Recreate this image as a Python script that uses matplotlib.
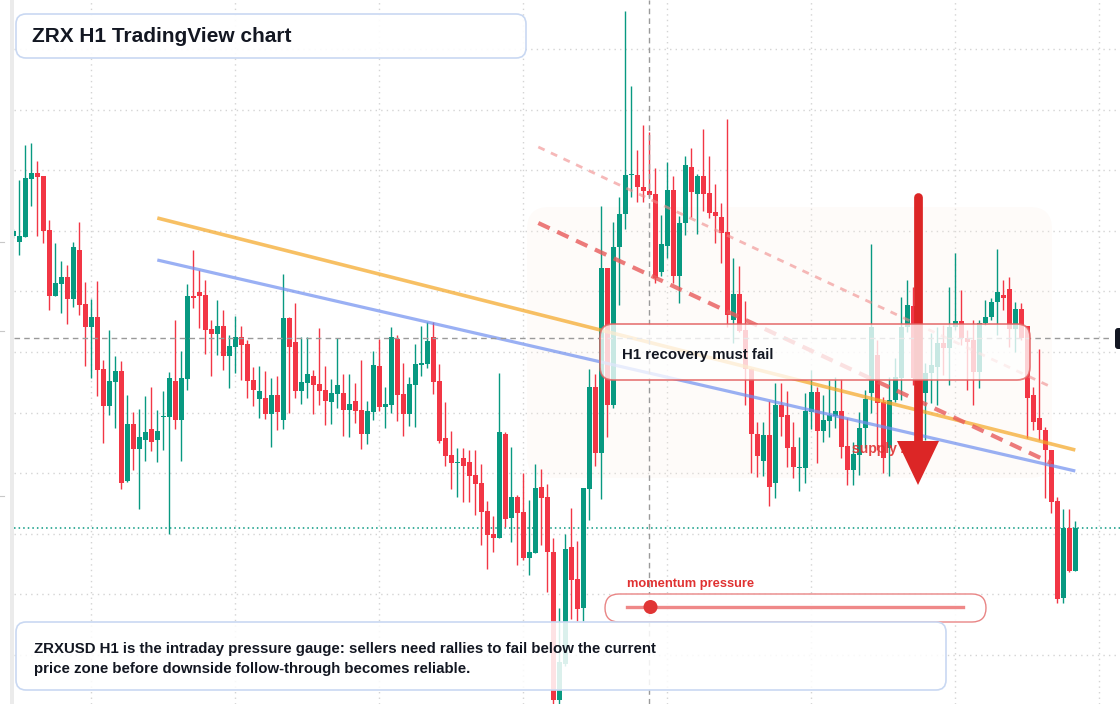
import numpy as np
import matplotlib
matplotlib.use("Agg")
import matplotlib.pyplot as plt
import matplotlib.transforms as mtransforms
from matplotlib.patches import FancyBboxPatch, Rectangle, Polygon, Circle
from matplotlib.lines import Line2D

# ---------------- data (ZRXUSD, H1 candles) ----------------
opens = [0.2764, 0.2758, 0.2763, 0.2821, 0.2827, 0.2824, 0.2770, 0.2704, 0.2716, 0.2723,
         0.2701, 0.2750, 0.2696, 0.2673, 0.2683, 0.2631, 0.2594, 0.2618, 0.2629, 0.2519,
         0.2576, 0.2551, 0.2560, 0.2571, 0.2560, 0.2583, 0.2583, 0.2619, 0.2580, 0.2621,
         0.2704, 0.2708, 0.2705, 0.2671, 0.2666, 0.2674, 0.2644, 0.2653, 0.2663, 0.2656,
         0.2620, 0.2601, 0.2602, 0.2586, 0.2605, 0.2580, 0.2682, 0.2658, 0.2609, 0.2617,
         0.2624, 0.2616, 0.2610, 0.2598, 0.2606, 0.2607, 0.2590, 0.2599, 0.2590, 0.2566,
         0.2588, 0.2634, 0.2593, 0.2595, 0.2661, 0.2606, 0.2586, 0.2615, 0.2635, 0.2636,
         0.2663, 0.2619, 0.2562, 0.2545, 0.2537, 0.2542, 0.2538, 0.2525, 0.2517, 0.2489,
         0.2466, 0.2462, 0.2566, 0.2482, 0.2503, 0.2488, 0.2442, 0.2447, 0.2513, 0.2503,
         0.2448, 0.2300, 0.2336, 0.2453, 0.2421, 0.2392, 0.2511, 0.2613, 0.2547, 0.2732,
         0.2595, 0.2753, 0.2786, 0.2825, 0.2825, 0.2813, 0.2809, 0.2806, 0.2728, 0.2754,
         0.2810, 0.2724, 0.2777, 0.2833, 0.2806, 0.2824, 0.2807, 0.2788, 0.2783, 0.2768,
         0.2680, 0.2706, 0.2670, 0.2631, 0.2566, 0.2539, 0.2565, 0.2517, 0.2595, 0.2585,
         0.2553, 0.2532, 0.2532, 0.2588, 0.2608, 0.2569, 0.2579, 0.2584, 0.2589, 0.2554,
         0.2530, 0.2545, 0.2572, 0.2607, 0.2645, 0.2598, 0.2552, 0.2600, 0.2622, 0.2673,
         0.2694, 0.2623, 0.2607, 0.2627, 0.2633, 0.2657, 0.2652, 0.2673, 0.2679, 0.2662,
         0.2660, 0.2628, 0.2677, 0.2683, 0.2698, 0.2705, 0.2711, 0.2671, 0.2691, 0.2674,
         0.2605, 0.2582, 0.2570, 0.2550, 0.2499, 0.2402, 0.2472, 0.2429]
highs = [0.2771, 0.2820, 0.2855, 0.2857, 0.2839, 0.2824, 0.2780, 0.2757, 0.2739, 0.2735,
         0.2758, 0.2778, 0.2718, 0.2701, 0.2719, 0.2640, 0.2670, 0.2644, 0.2639, 0.2605,
         0.2588, 0.2591, 0.2604, 0.2613, 0.2590, 0.2609, 0.2628, 0.2680, 0.2649, 0.2716,
         0.2750, 0.2730, 0.2720, 0.2680, 0.2700, 0.2690, 0.2665, 0.2684, 0.2674, 0.2660,
         0.2633, 0.2634, 0.2629, 0.2622, 0.2624, 0.2726, 0.2683, 0.2697, 0.2663, 0.2663,
         0.2630, 0.2672, 0.2634, 0.2621, 0.2662, 0.2626, 0.2626, 0.2617, 0.2640, 0.2599,
         0.2649, 0.2661, 0.2613, 0.2673, 0.2665, 0.2637, 0.2623, 0.2656, 0.2674, 0.2678,
         0.2678, 0.2636, 0.2598, 0.2569, 0.2552, 0.2552, 0.2550, 0.2550, 0.2536, 0.2499,
         0.2484, 0.2627, 0.2568, 0.2553, 0.2505, 0.2527, 0.2500, 0.2536, 0.2531, 0.2516,
         0.2462, 0.2392, 0.2466, 0.2492, 0.2459, 0.2512, 0.2631, 0.2626, 0.2794, 0.2732,
         0.2778, 0.2803, 0.2989, 0.2914, 0.2850, 0.2875, 0.2868, 0.2832, 0.2785, 0.2838,
         0.2824, 0.2784, 0.2844, 0.2852, 0.2826, 0.2871, 0.2844, 0.2816, 0.2797, 0.2881,
         0.2742, 0.2734, 0.2699, 0.2632, 0.2578, 0.2578, 0.2599, 0.2617, 0.2617, 0.2609,
         0.2578, 0.2563, 0.2607, 0.2630, 0.2613, 0.2605, 0.2620, 0.2623, 0.2621, 0.2582,
         0.2558, 0.2588, 0.2610, 0.2756, 0.2660, 0.2603, 0.2623, 0.2642, 0.2703, 0.2720,
         0.2713, 0.2650, 0.2637, 0.2667, 0.2673, 0.2675, 0.2713, 0.2747, 0.2710, 0.2670,
         0.2680, 0.2680, 0.2700, 0.2702, 0.2751, 0.2720, 0.2723, 0.2698, 0.2697, 0.2674,
         0.2613, 0.2651, 0.2573, 0.2550, 0.2503, 0.2491, 0.2491, 0.2479]
lows = [0.2762, 0.2745, 0.2763, 0.2794, 0.2764, 0.2757, 0.2690, 0.2704, 0.2687, 0.2676,
        0.2693, 0.2685, 0.2634, 0.2622, 0.2604, 0.2557, 0.2585, 0.2572, 0.2511, 0.2518,
        0.2530, 0.2491, 0.2539, 0.2549, 0.2538, 0.2550, 0.2466, 0.2571, 0.2539, 0.2610,
        0.2692, 0.2672, 0.2646, 0.2624, 0.2645, 0.2630, 0.2612, 0.2627, 0.2620, 0.2602,
        0.2594, 0.2582, 0.2581, 0.2553, 0.2570, 0.2571, 0.2587, 0.2602, 0.2596, 0.2602,
        0.2586, 0.2595, 0.2575, 0.2576, 0.2592, 0.2564, 0.2563, 0.2577, 0.2551, 0.2556,
        0.2580, 0.2589, 0.2572, 0.2587, 0.2579, 0.2564, 0.2574, 0.2573, 0.2624, 0.2632,
        0.2606, 0.2557, 0.2534, 0.2511, 0.2503, 0.2498, 0.2498, 0.2485, 0.2455, 0.2431,
        0.2448, 0.2462, 0.2473, 0.2458, 0.2435, 0.2440, 0.2425, 0.2447, 0.2455, 0.2408,
        0.2294, 0.2296, 0.2334, 0.2381, 0.2379, 0.2379, 0.2480, 0.2534, 0.2501, 0.2563,
        0.2592, 0.2695, 0.2771, 0.2803, 0.2798, 0.2798, 0.2803, 0.2717, 0.2724, 0.2742,
        0.2717, 0.2697, 0.2765, 0.2783, 0.2766, 0.2789, 0.2782, 0.2757, 0.2737, 0.2673,
        0.2657, 0.2668, 0.2595, 0.2527, 0.2523, 0.2524, 0.2494, 0.2502, 0.2564, 0.2533,
        0.2522, 0.2509, 0.2517, 0.2571, 0.2537, 0.2558, 0.2563, 0.2572, 0.2542, 0.2515,
        0.2515, 0.2525, 0.2552, 0.2587, 0.2550, 0.2527, 0.2524, 0.2598, 0.2600, 0.2668,
        0.2615, 0.2590, 0.2560, 0.2597, 0.2595, 0.2625, 0.2615, 0.2670, 0.2655, 0.2610,
        0.2595, 0.2612, 0.2675, 0.2680, 0.2665, 0.2690, 0.2653, 0.2648, 0.2660, 0.2562,
        0.2570, 0.2560, 0.2502, 0.2487, 0.2397, 0.2397, 0.2428, 0.2429]
closes = [0.2769, 0.2764, 0.2822, 0.2827, 0.2823, 0.2769, 0.2704, 0.2717, 0.2723, 0.2701,
          0.2753, 0.2695, 0.2673, 0.2683, 0.2630, 0.2594, 0.2619, 0.2629, 0.2517, 0.2576,
          0.2551, 0.2563, 0.2568, 0.2558, 0.2569, 0.2584, 0.2622, 0.2580, 0.2622, 0.2704,
          0.2702, 0.2704, 0.2670, 0.2666, 0.2674, 0.2644, 0.2654, 0.2663, 0.2655, 0.2619,
          0.2610, 0.2609, 0.2586, 0.2605, 0.2588, 0.2682, 0.2653, 0.2609, 0.2618, 0.2626,
          0.2615, 0.2609, 0.2599, 0.2607, 0.2615, 0.2590, 0.2596, 0.2589, 0.2566, 0.2589,
          0.2635, 0.2593, 0.2596, 0.2663, 0.2605, 0.2586, 0.2616, 0.2636, 0.2637, 0.2659,
          0.2618, 0.2559, 0.2544, 0.2537, 0.2538, 0.2534, 0.2524, 0.2516, 0.2488, 0.2465,
          0.2462, 0.2568, 0.2481, 0.2503, 0.2487, 0.2442, 0.2448, 0.2512, 0.2502, 0.2448,
          0.2300, 0.2338, 0.2451, 0.2420, 0.2391, 0.2512, 0.2613, 0.2547, 0.2732, 0.2595,
          0.2753, 0.2786, 0.2825, 0.2826, 0.2813, 0.2809, 0.2805, 0.2722, 0.2756, 0.2810,
          0.2724, 0.2777, 0.2835, 0.2808, 0.2824, 0.2806, 0.2787, 0.2784, 0.2767, 0.2685,
          0.2706, 0.2669, 0.2631, 0.2566, 0.2544, 0.2565, 0.2513, 0.2595, 0.2583, 0.2552,
          0.2533, 0.2533, 0.2589, 0.2608, 0.2569, 0.2580, 0.2585, 0.2589, 0.2553, 0.2530,
          0.2546, 0.2572, 0.2601, 0.2673, 0.2597, 0.2542, 0.2600, 0.2623, 0.2673, 0.2695,
          0.2622, 0.2607, 0.2627, 0.2635, 0.2657, 0.2652, 0.2673, 0.2679, 0.2662, 0.2658,
          0.2628, 0.2677, 0.2683, 0.2698, 0.2708, 0.2702, 0.2671, 0.2691, 0.2662, 0.2602,
          0.2578, 0.2570, 0.2550, 0.2498, 0.2401, 0.2472, 0.2429, 0.2472]

price_grid = [0.2951, 0.2890, 0.2830, 0.2769, 0.2709, 0.2648, 0.2587, 0.2527, 0.2466, 0.2406, 0.2345]
time_grid = [13, 37, 61, 85, 109, 133, 157, 181]      # one vertical line per 24 H1 bars
crosshair_bar = 106
crosshair_price = 0.2662

orange_x, orange_y = [24, 177], [0.2782, 0.2550]
blue_x, blue_y = [24, 177], [0.2740, 0.2529]
upper_dash_x, upper_dash_y = [87.5, 173], [0.2853, 0.2613]
lower_dash_x, lower_dash_y = [87.5, 173], [0.2777, 0.2537]

title_text = "ZRX H1 TradingView chart"
note_lines = ["ZRXUSD H1 is the intraday pressure gauge: sellers need rallies to fail below the current",
              "price zone before downside follow-through becomes reliable."]
callout_text = "H1 recovery must fail"
zone_label = "supply zone"
gauge_label = "momentum pressure"
gauge_value = 0.07

# ---------------- styling ----------------
GREEN = "#089981"
RED = "#f23645"
TEXT = "#131722"
FONT = "Liberation Sans"
W, H = 1120, 704

fig = plt.figure(figsize=(W / 100, H / 100), dpi=100)
fig.patch.set_facecolor("white")
ax = fig.add_axes([0, 0, 1, 1])
ax.set_xlim(-13.3 / 6, (W - 13.3) / 6)
ax.set_ylim(0.2296, 0.3000)
ax.axis("off")

pix = mtransforms.Affine2D().scale(1 / W, -1 / H).translate(0, 1) + fig.transFigure

# left strip (drawn above the first, clipped bar)
ax.add_patch(Rectangle((0, 0), 10, H, transform=pix, fc="white", ec="none", zorder=3.4))
ax.add_patch(Rectangle((10, 0), 4, H, transform=pix, fc="#ebebeb", ec="none", zorder=3.5))
for yy in (242, 331, 496):
    ax.add_line(Line2D([0, 4], [yy, yy], transform=pix, color="#c8c8c8", lw=0.8, zorder=3.6))

# grid
for p in price_grid:
    ax.axhline(p, xmin=14 / W, xmax=1, color="#d4d4d4", lw=1.0, ls=(0, (1, 3)), zorder=0.5)
for t in time_grid:
    ax.axvline(t, color="#d4d4d4", lw=1.0, ls=(0, (1, 3)), zorder=0.5)

# supply zone shading
ax.add_patch(FancyBboxPatch((527, 207), 525, 271, boxstyle="round,pad=0,rounding_size=22",
                            transform=pix, fc="#fbeee4", ec="none", alpha=0.22, zorder=0.8))

# last price line
ax.axhline(closes[-1], xmin=14 / W, xmax=1, color=GREEN, lw=1.1, ls=(0, (1, 2)), zorder=2.5)

# candles
o = np.array(opens); h = np.array(highs); l = np.array(lows); c = np.array(closes)
idx = np.arange(len(o))
cols = np.where(c >= o, GREEN, RED)
ax.vlines(idx, l, h, colors=cols, lw=1.0, zorder=3)
bottoms = np.minimum(o, c)
heights = np.maximum(np.abs(c - o), 0.00012)
ax.bar(idx, heights, bottom=bottoms, width=0.78, color=cols, linewidth=0, zorder=3.1)

# trend lines
ax.plot(orange_x, orange_y, color="#f5a623", lw=2.6, alpha=0.7, solid_capstyle="butt", zorder=4)
ax.plot(blue_x, blue_y, color="#6f8ff0", lw=2.3, alpha=0.7, solid_capstyle="butt", zorder=4)
ax.plot(upper_dash_x, upper_dash_y, color="#f08a8a", lw=2.0, alpha=0.6, ls=(0, (2.5, 2.5)), zorder=4)
ax.plot(lower_dash_x, lower_dash_y, color="#e85a5a", lw=3.0, alpha=0.8, ls=(0, (3, 2)), zorder=4)

# crosshair
ax.axvline(crosshair_bar, color="#9a9a9a", lw=1.0, ls=(0, (4, 3)), zorder=4.5)
ax.axhline(crosshair_price, xmin=14 / W, xmax=1110 / W, color="#9a9a9a", lw=1.0, ls=(0, (4, 3)), zorder=4.5)
ax.add_patch(FancyBboxPatch((1115, 328), 20, 21, boxstyle="round,pad=0,rounding_size=3",
                            transform=pix, fc=TEXT, ec="none", zorder=4.6))

# supply zone label
ax.text(852, 449.5, zone_label, transform=pix, color="#e03131", fontsize=10, fontweight="bold",
        family=FONT, va="center", ha="left", alpha=0.9, zorder=5)

# big arrow
ARROW = "#dc2626"
ax.add_line(Line2D([918, 918], [197, 445], transform=pix, color=ARROW, lw=6.3,
                   solid_capstyle="round", zorder=6))
ax.add_patch(Polygon([[897, 441], [939, 441], [918, 485]], closed=True, transform=pix,
                     fc=ARROW, ec="none", zorder=6))

# callout box
ax.add_patch(FancyBboxPatch((600, 324), 430, 56, boxstyle="round,pad=0,rounding_size=13",
                            transform=pix, fc=(1, 1, 1, 0.78), ec=(0.89, 0.38, 0.38, 0.8),
                            lw=1.3, zorder=7))
ax.text(622, 354.5, callout_text, transform=pix, color=TEXT, fontsize=10.8, fontweight="bold",
        family=FONT, va="center", ha="left", zorder=8)

# title box
ax.add_patch(FancyBboxPatch((16, 14), 510, 44, boxstyle="round,pad=0,rounding_size=10",
                            transform=pix, fc=(1, 1, 1, 0.92), ec="#c9d8f2", lw=1.2, zorder=7))
ax.text(32, 37, title_text, transform=pix, color=TEXT, fontsize=15, fontweight="bold",
        family=FONT, va="center", ha="left", zorder=8)

# gauge
ax.text(627, 583.5, gauge_label, transform=pix, color="#e03131", fontsize=9.3, fontweight="bold",
        family=FONT, va="center", ha="left", zorder=8)
ax.add_patch(FancyBboxPatch((605, 594), 381, 28, boxstyle="round,pad=0,rounding_size=14",
                            transform=pix, fc=(1, 1, 1, 0.9), ec="#e98585", lw=1.0, zorder=7))
gx0, gx1 = 627, 963
ax.add_line(Line2D([gx0, gx1], [607, 607], transform=pix, color="#ee7b7b", lw=2.4,
                   alpha=0.9, zorder=8))
ax.add_patch(Circle((gx0 + gauge_value * (gx1 - gx0), 607), 7, transform=pix, fc="#e03535",
                    ec="none", zorder=9))

# bottom note box
ax.add_patch(FancyBboxPatch((16, 622), 930, 68, boxstyle="round,pad=0,rounding_size=10",
                            transform=pix, fc=(1, 1, 1, 0.86), ec="#c9d8f2", lw=1.2, zorder=7))
for k, line in enumerate(note_lines):
    ax.text(34, 648.5 + 20 * k, line, transform=pix, color=TEXT, fontsize=10.8, fontweight="bold",
            family=FONT, va="center", ha="left", zorder=8)

fig.savefig("out.png", dpi=100, facecolor="white")
